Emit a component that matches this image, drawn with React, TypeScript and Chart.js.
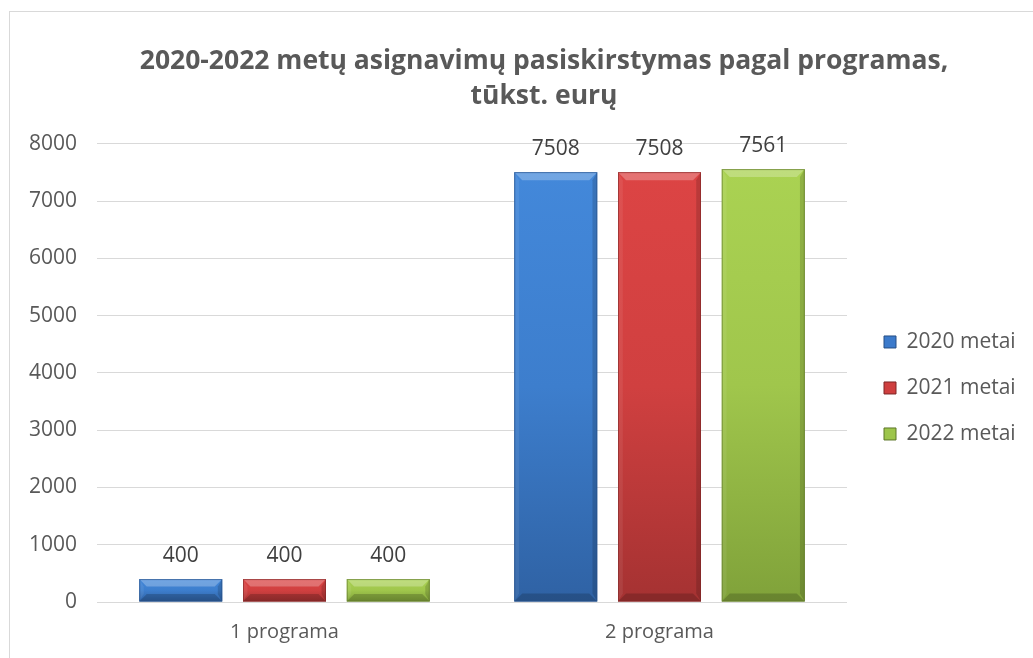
import React, { useEffect, useRef } from 'react';
import { Chart, registerables } from 'chart.js';

Chart.register(...registerables);

const categories = ['1 programa', '2 programa'];
const seriesNames = ['2020 metai', '2021 metai', '2022 metai'];
const values2020 = [400, 7508];
const values2021 = [400, 7508];
const values2022 = [400, 7561];
const yMin = 0;
const yMax = 8000;
const yStep = 1000;
const titleLines = ['2020-2022 metų asignavimų pasiskirstymas pagal programas,', 'tūkst. eurų'];

const FONT = "'Open Sans', 'Noto Sans', sans-serif";
const palettes = [
  { base: '#3b7acb', top: '#4388da', mid: '#3d7ecd', bottom: '#2f62a4', edge: '#264f85' },
  { base: '#cf3f3f', top: '#dc4444', mid: '#d04040', bottom: '#a53232', edge: '#7e2626' },
  { base: '#9dc54b', top: '#aad252', mid: '#a0c64c', bottom: '#80a23a', edge: '#5d7629' },
];

const bevelPlugin = {
  id: 'bevelBars',
  afterDatasetsDraw(chart: any) {
    const ctx = chart.ctx as CanvasRenderingContext2D;
    chart.data.datasets.forEach((_ds: any, di: number) => {
      const meta = chart.getDatasetMeta(di);
      const pal = palettes[di];
      meta.data.forEach((bar: any) => {
        const p = bar.getProps(['x', 'y', 'base', 'width'], true);
        const l = p.x - p.width / 2;
        const r = p.x + p.width / 2;
        const t = Math.min(p.y, p.base);
        const b = Math.max(p.y, p.base);
        const h = b - t;
        const bv = Math.min(8, h / 3);
        ctx.save();
        const g = ctx.createLinearGradient(0, t, 0, b);
        g.addColorStop(0, pal.top);
        g.addColorStop(0.5, pal.mid);
        g.addColorStop(1, pal.bottom);
        ctx.fillStyle = g;
        ctx.fillRect(l, t, r - l, h);
        const poly = (pts: number[][], fill: string) => {
          ctx.beginPath();
          ctx.moveTo(pts[0][0], pts[0][1]);
          for (let i = 1; i < pts.length; i++) ctx.lineTo(pts[i][0], pts[i][1]);
          ctx.closePath();
          ctx.fillStyle = fill;
          ctx.fill();
        };
        poly([[l, t], [r, t], [r - bv, t + bv], [l + bv, t + bv]], 'rgba(255,255,255,0.25)');
        poly([[l, t], [l + bv * 0.6, t + bv], [l + bv * 0.6, b - bv], [l, b]], 'rgba(255,255,255,0.07)');
        poly([[r, t], [r - bv * 0.6, t + bv], [r - bv * 0.6, b - bv], [r, b]], 'rgba(0,0,0,0.15)');
        poly([[l, b], [l + bv, b - bv], [r - bv, b - bv], [r, b]], 'rgba(0,0,0,0.18)');
        ctx.strokeStyle = pal.edge;
        ctx.globalAlpha = 0.6;
        ctx.lineWidth = 1;
        ctx.strokeRect(l + 0.5, t + 0.5, r - l - 1, h - 1);
        ctx.restore();
      });
    });
  },
};

const valueLabelPlugin = {
  id: 'valueLabels',
  afterDatasetsDraw(chart: any) {
    const ctx = chart.ctx as CanvasRenderingContext2D;
    ctx.save();
    ctx.font = `21px ${FONT}`;
    ctx.fillStyle = '#404040';
    ctx.textAlign = 'center';
    ctx.textBaseline = 'middle';
    chart.data.datasets.forEach((ds: any, di: number) => {
      const meta = chart.getDatasetMeta(di);
      meta.data.forEach((bar: any, i: number) => {
        ctx.fillText(String(ds.data[i]), bar.x, bar.y - 23);
      });
    });
    ctx.restore();
  },
};

export default function App() {
  const ref = useRef<HTMLCanvasElement | null>(null);

  useEffect(() => {
    if (!ref.current) return;
    const seriesValues = [values2020, values2021, values2022];
    const chart = new Chart(ref.current, {
      type: 'bar',
      data: {
        labels: categories,
        datasets: seriesNames.map((name, i) => ({
          label: name,
          data: seriesValues[i],
          backgroundColor: palettes[i].base,
          borderColor: palettes[i].edge,
          borderWidth: 1,
          categoryPercentage: 0.83,
          barPercentage: 0.8,
        })),
      },
      options: {
        responsive: false,
        maintainAspectRatio: false,
        animation: false,
        devicePixelRatio: 1,
        layout: { padding: { left: 0, right: 2, top: 0, bottom: 0 } },
        plugins: {
          title: {
            display: true,
            text: titleLines,
            color: '#595959',
            font: { family: FONT, size: 26.5, weight: 'bold', lineHeight: 1.32 },
            padding: { top: 32, bottom: 30 },
          },
          legend: {
            display: true,
            position: 'right',
            align: 'center',
            fullSize: false,
            title: { display: true, text: ' ', font: { size: 18, lineHeight: 1 }, padding: 0 },
            labels: {
              color: '#595959',
              font: { family: FONT, size: 21, lineHeight: '9px' },
              boxWidth: 12,
              boxHeight: 12,
              padding: 37,
              generateLabels: (c: any) =>
                (Chart as any).defaults.plugins.legend.labels
                  .generateLabels(c)
                  .map((it: any) => ({ ...it, text: [it.text] })),
            },
          },
          tooltip: { enabled: false },
        },
        scales: {
          x: {
            grid: { display: false, drawTicks: false },
            border: { display: false },
            ticks: { color: '#595959', font: { family: FONT, size: 20 }, padding: 18 },
          },
          y: {
            min: yMin,
            max: yMax,
            afterFit: (s: any) => { s.width = 87; },
            grid: { color: '#d9d9d9', lineWidth: 1, drawTicks: false },
            border: { display: false },
            ticks: {
              stepSize: yStep,
              color: '#595959',
              font: { family: FONT, size: 21 },
              padding: 20,
              callback: (v: any) => String(v),
            },
          },
          outer: {
            type: 'linear',
            position: 'right',
            display: true,
            weight: 3000,
            grid: { display: false, drawTicks: false },
            border: { display: false },
            ticks: { display: false },
            afterFit: (s: any) => { s.width = 53; },
          },
        },
      },
      plugins: [bevelPlugin, valueLabelPlugin],
    } as any);
    return () => chart.destroy();
  }, []);

  return (
    <div style={{ position: 'fixed', inset: 0, overflow: 'hidden', background: '#ffffff' }}>
      <div
        style={{
          position: 'absolute',
          left: 9,
          top: 11,
          width: 1070,
          height: 650,
          border: '1px solid #d9d9d9',
          background: '#ffffff',
        }}
      >
        <canvas ref={ref} width={1070} height={650} style={{ display: 'block', width: 1070, height: 650 }} />
      </div>
    </div>
  );
}
